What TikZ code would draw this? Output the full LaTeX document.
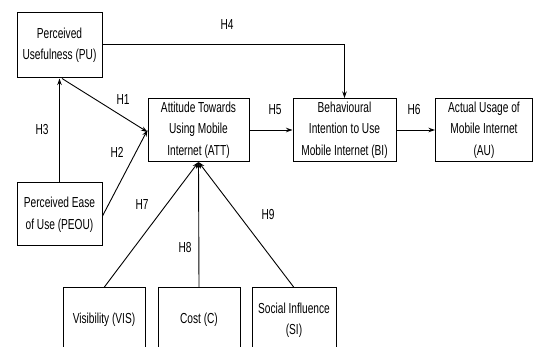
\documentclass[tikz,border=0pt]{standalone}
\usepackage{fontspec}
\setmainfont{Liberation Sans}[FakeStretch=0.7]
\usetikzlibrary{arrows.meta}
\begin{document}
\begin{tikzpicture}[x=1pt,y=-1pt,
  box/.style={draw, line width=1pt, align=center, inner sep=0pt,
    font=\fontsize{14.5}{21.5}\selectfont},
  arr/.style={line width=0.9pt, -{Stealth[length=6.5pt,width=4.5pt]}},
  lab/.style={font=\fontsize{14.5}{16}\selectfont, inner sep=0pt}]
\useasboundingbox (0,0) rectangle (533,347);
\clip (0,0) rectangle (533,347);
\node[box, minimum width=85pt, minimum height=65pt] (PU) at (59.5,45.5) {Perceived\\Usefulness (PU)};
\node[box, minimum width=101pt, minimum height=63pt] (ATT) at (198.5,130) {Attitude Towards\\Using Mobile\\Internet (ATT)};
\node[box, minimum width=103pt, minimum height=63pt] (BI) at (344.5,130) {Behavioural\\Intention to Use\\Mobile Internet (BI)};
\node[box, minimum width=97pt, minimum height=63pt] (AU) at (484,130) {Actual Usage of\\Mobile Internet\\(AU)};
\node[box, minimum width=85pt, minimum height=63pt] (PEOU) at (59.5,214.5) {Perceived Ease\\of Use (PEOU)};
\node[box, minimum width=82pt, minimum height=64pt] (VIS) at (104,320) {Visibility (VIS)};
\node[box, minimum width=82pt, minimum height=64pt] (C) at (199,320) {Cost (C)};
\node[box, minimum width=84pt, minimum height=64pt] (SI) at (294,320) {Social Influence\\(SI)};
\draw[arr] ([xshift=2.5pt]PU.south) -- ([yshift=-2pt]ATT.west);
\draw[arr] (PEOU.north) -- (PU.south);
\draw[arr] ([yshift=-1.5pt]PEOU.east) -- (ATT.west);
\draw[arr] ([yshift=1.5pt]PU.east) -| (BI.north);
\draw[arr] (ATT.east) -- (BI.west);
\draw[arr] (BI.east) -- (AU.west);
\draw[arr] (VIS.north) -- (ATT.south);
\draw[arr] (C.north) -- (ATT.south);
\draw[arr] (SI.north) -- (ATT.south);
\node[lab] (h4) at (227,25) {H4};
\node[lab] (h1) at (123,100) {H1};
\node[lab] (h3) at (42,130) {H3};
\node[lab] (h2) at (117,152) {H2};
\node[lab] (h5) at (275,110) {H5};
\node[lab] (h6) at (414,110) {H6};
\node[lab] (h7) at (142,205) {H7};
\node[lab] (h8) at (185,248) {H8};
\node[lab] (h9) at (268,215) {H9};
\end{tikzpicture}
\end{document}
